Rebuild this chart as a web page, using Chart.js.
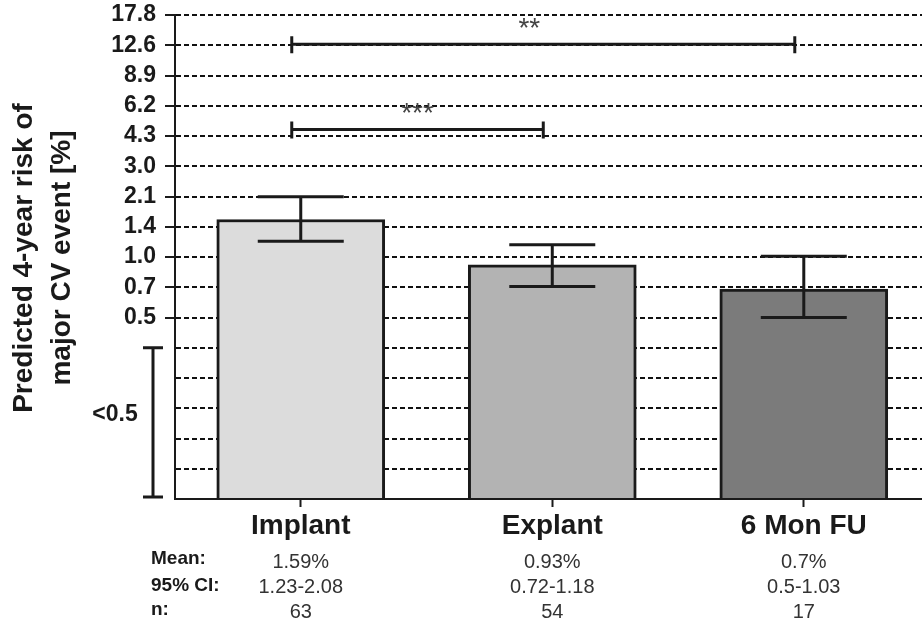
<!DOCTYPE html>
<html>
<head>
<meta charset="utf-8">
<script src="https://cdn.jsdelivr.net/npm/chart.js@4"></script>
<style>
  body { margin: 0; background: #fff; }
  #wrap { width: 922px; height: 625px; }
</style>
</head>
<body>
<div id="wrap"><canvas id="riskChart"></canvas></div>
<script>
const categories = ['Implant', 'Explant', '6 Mon FU'];
const means = [1.59, 0.93, 0.7];
const ciLow = [1.23, 0.72, 0.5];
const ciHigh = [2.08, 1.18, 1.03];
const nValues = [63, 54, 17];
const meanLabels = ['1.59%', '0.93%', '0.7%'];
const ciLabels = ['1.23-2.08', '0.72-1.18', '0.5-1.03'];
const tickLabels = ['0.5', '0.7', '1.0', '1.4', '2.1', '3.0', '4.3', '6.2', '8.9', '12.6', '17.8'];
const rowLabels = ['Mean:', '95% CI:', 'n:'];

// significance brackets
const sigFrom = [0, 0];
const sigTo = [1, 2];
const sigLevel = [4.6, 12.6];
const sigText = ['***', '**'];

const FONT = "'Liberation Sans', Arial, Helvetica, sans-serif";
const INK = '#1a1a1a';

// axis: 5 blank steps below 0.5, then a log scale step per tick label
const BELOW = 6;
const RATIO = Math.pow(17.8 / 0.5, 1 / 10);
function toStep(v) {
  return BELOW + Math.log(v / 0.5) / Math.log(RATIO);
}

const extras = {
  id: 'extras',
  afterDatasetsDraw(chart) {
    const ctx = chart.ctx;
    const xs = chart.scales.x;
    const ys = chart.scales.y;
    ctx.save();
    ctx.strokeStyle = INK;
    ctx.lineWidth = 3;

    // error bars
    categories.forEach((c, i) => {
      const x = xs.getPixelForValue(i);
      const lo = ys.getPixelForValue(toStep(ciLow[i]));
      const hi = ys.getPixelForValue(toStep(ciHigh[i]));
      ctx.beginPath();
      ctx.moveTo(x, lo); ctx.lineTo(x, hi);
      ctx.moveTo(x - 43, lo); ctx.lineTo(x + 43, lo);
      ctx.moveTo(x - 43, hi); ctx.lineTo(x + 43, hi);
      ctx.stroke();
    });

    // significance brackets
    sigFrom.forEach((f, k) => {
      const x1 = xs.getPixelForValue(f) - 9;
      const x2 = xs.getPixelForValue(sigTo[k]) - 9;
      const y = ys.getPixelForValue(toStep(sigLevel[k]));
      ctx.beginPath();
      ctx.moveTo(x1, y); ctx.lineTo(x2, y);
      ctx.moveTo(x1, y - 8); ctx.lineTo(x1, y + 9);
      ctx.moveTo(x2, y - 8); ctx.lineTo(x2, y + 9);
      ctx.stroke();
      ctx.fillStyle = '#444';
      ctx.font = '28px ' + FONT;
      ctx.textAlign = 'center';
      ctx.textBaseline = 'middle';
      ctx.fillText(sigText[k], (x1 + x2) / 2 - (k ? 14 : 0), y - 15);
    });
    ctx.restore();
  },
  afterDraw(chart) {
    const ctx = chart.ctx;
    const xs = chart.scales.x;
    const ys = chart.scales.y;
    ctx.save();
    ctx.fillStyle = INK;
    ctx.strokeStyle = INK;

    // axis title
    ctx.save();
    ctx.translate(0, 258);
    ctx.rotate(-Math.PI / 2);
    ctx.textAlign = 'center';
    ctx.textBaseline = 'middle';
    ctx.font = 'bold 28px ' + FONT;
    ctx.fillText('Predicted 4-year risk of', 0, 24);
    ctx.fillText('major CV event [%]', 0, 62);
    ctx.restore();

    // <0.5 bracket
    const top = ys.getPixelForValue(BELOW - 1);
    const bot = ys.getPixelForValue(0) - 2;
    ctx.lineWidth = 3;
    ctx.beginPath();
    ctx.moveTo(153, top); ctx.lineTo(153, bot);
    ctx.moveTo(143, top); ctx.lineTo(163, top);
    ctx.moveTo(143, bot); ctx.lineTo(163, bot);
    ctx.stroke();
    ctx.font = 'bold 23px ' + FONT;
    ctx.textAlign = 'center';
    ctx.textBaseline = 'middle';
    ctx.fillText('<0.5', 115, (top + bot) / 2 - 8);

    // stats table
    const rowY = [559, 586, 610];
    ctx.textAlign = 'left';
    ctx.font = 'bold 19px ' + FONT;
    rowLabels.forEach((t, r) => ctx.fillText(t, 151, rowY[r]));
    ctx.textAlign = 'center';
    ctx.font = '20px ' + FONT;
    ctx.fillStyle = '#333';
    categories.forEach((c, i) => {
      const x = xs.getPixelForValue(i);
      ctx.fillText(meanLabels[i], x, rowY[0] + 3);
      ctx.fillText(ciLabels[i], x, rowY[1] + 1);
      ctx.fillText(String(nValues[i]), x, rowY[2] + 2);
    });
    ctx.restore();
  }
};

new Chart(document.getElementById('riskChart'), {
  type: 'bar',
  data: {
    datasets: [{
      label: 'Mean',
      data: means.map((m, i) => ({ x: i, y: toStep(m) })),
      backgroundColor: ['#dcdcdc', '#b3b3b3', '#7b7b7b'],
      borderColor: INK,
      borderWidth: 3,
      barThickness: 168
    }]
  },
  options: {
    responsive: true,
    maintainAspectRatio: false,
    animation: false,
    layout: { padding: { top: 15, right: 0, bottom: 0, left: 0 } },
    plugins: {
      legend: { display: false },
      tooltip: { enabled: false }
    },
    scales: {
      x: {
        type: 'linear',
        min: -0.5,
        max: 2.47,
        offset: false,
        afterBuildTicks: s => { s.ticks = categories.map((c, i) => ({ value: i })); },
        afterFit: s => { s.height = 126; s.paddingLeft = 0; s.paddingRight = 0; },
        ticks: {
          callback: v => categories[v],
          autoSkip: false,
          maxRotation: 0,
          padding: 2,
          color: INK,
          font: { family: FONT, size: 28, weight: 'bold' }
        },
        grid: { offset: false, drawOnChartArea: false, tickLength: 8, tickWidth: 2, tickColor: INK },
        border: { color: INK, width: 2 }
      },
      y: {
        min: 0,
        max: 16,
        afterBuildTicks: s => {
          s.ticks = [];
          for (let v = 0; v <= 16; v++) s.ticks.push({ value: v });
        },
        afterFit: s => { s.width = 175; s.paddingTop = 0; s.paddingBottom = 0; },
        ticks: {
          callback: v => (v >= BELOW ? tickLabels[v - BELOW] : ''),
          autoSkip: false,
          padding: 9,
          color: INK,
          font: { family: FONT, size: 23, weight: 'bold' }
        },
        grid: {
          color: '#111',
          lineWidth: 2,
          tickLength: 10,
          tickWidth: 2,
          tickColor: c => (c.tick && c.tick.value >= BELOW ? INK : 'rgba(0,0,0,0)')
        },
        border: { color: INK, width: 2, dash: [5, 3] }
      }
    }
  },
  plugins: [extras]
});
</script>
</body>
</html>
